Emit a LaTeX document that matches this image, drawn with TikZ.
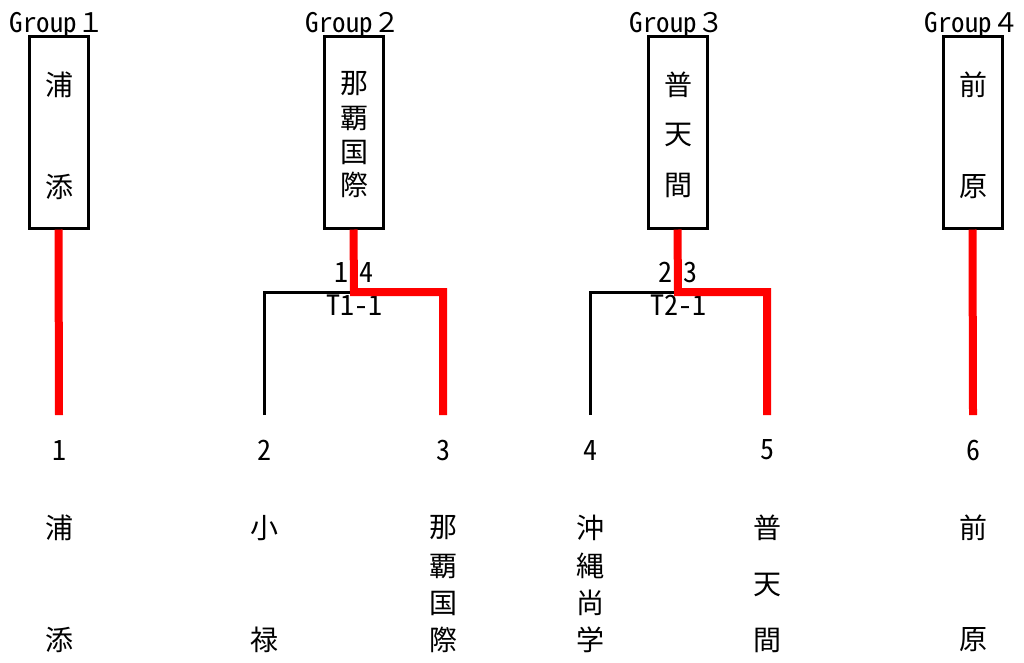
\documentclass[tikz,border=0pt]{standalone}
\usepackage{fontspec}
\setmainfont{Noto Sans CJK JP}
\newfontfamily\hw[RawFeature=+hwid]{Noto Sans CJK JP}
\begin{document}
\begin{tikzpicture}[x=1pt,y=-1pt,
  box/.style={draw=black,line width=3pt,minimum width=59pt,minimum height=192pt,inner sep=0pt},
  ch/.style={font=\fontsize{28}{28}\selectfont,inner sep=0pt},
  lab/.style={font=\hw\fontsize{28}{28}\selectfont,inner sep=0pt},
  grp/.style={font=\fontsize{27}{27}\selectfont,inner sep=0pt},
  win/.style={draw=red,line width=8pt},
  lose/.style={draw=black,line width=3pt}]
\useasboundingbox (0,0) rectangle (1024,662);
% groups
\node[box] (g1) at (58.5,132) {};
\node[box] (g2) at (353.5,132) {};
\node[box] (g3) at (677.5,132) {};
\node[box] (g4) at (972.5,132) {};
\node[grp,anchor=base] (t1) at (57,32) {{\hw Group}１};
\node[grp,anchor=base] (t2) at (353,32) {{\hw Group}２};
\node[grp,anchor=base] (t3) at (677,32) {{\hw Group}３};
\node[grp,anchor=base] (t4) at (972,32) {{\hw Group}４};
% box texts
\node[ch] (a1) at (59,85) {浦};
\node[ch] (a2) at (59,187) {添};
\node[ch] (b1) at (354,84) {那};
\node[ch] (b2) at (354,118) {覇};
\node[ch] (b3) at (354,152) {国};
\node[ch] (b4) at (354,185) {際};
\node[ch] (c1) at (678,85) {普};
\node[ch] (c2) at (678,135) {天};
\node[ch] (c3) at (678,185) {間};
\node[ch] (d1) at (973,85) {前};
\node[ch] (d2) at (973,187) {原};
% ends
\coordinate (e1) at (59,415);
\coordinate (e2) at (264,415);
\coordinate (e3) at (443,415);
\coordinate (e4) at (590,415);
\coordinate (e5) at (767,415);
\coordinate (e6) at (973,415);
\coordinate (j2) at (354,292);
\coordinate (j3) at (678,292);
% match labels
\node[lab] (m2) at (354,272) {1\hspace{11pt}4};
\node[lab] (k2) at (354,305) {T1-1};
\node[lab] (m3) at (678,272) {2\hspace{11pt}3};
\node[lab] (k3) at (678,305) {T2-1};
% connectors
\draw[lose] (e2) |- (j2);
\draw[lose] (e4) |- (j3);
\draw[win] (g1.south) -- (e1);
\draw[win] (g2.south) -- (j2) -| (e3);
\draw[win] (g3.south) -- (j3) -| (e5);
\draw[win] (g4.south) -- (e6);
% numbers
\node[lab] (n1) at (59,450) {1};
\node[lab] (n2) at (264,450) {2};
\node[lab] (n3) at (443,450) {3};
\node[lab] (n4) at (590,450) {4};
\node[lab] (n5) at (767,450) {5};
\node[lab] (n6) at (973,450) {6};
% team names
\node[ch] (p1) at (59,528) {浦};
\node[ch] (p2) at (59,640) {添};
\node[ch] (q1) at (264,528) {小};
\node[ch] (q2) at (264,640) {禄};
\node[ch] (r1) at (443,528) {那};
\node[ch] (r2) at (443,566) {覇};
\node[ch] (r3) at (443,603) {国};
\node[ch] (r4) at (443,640) {際};
\node[ch] (s1) at (590,528) {沖};
\node[ch] (s2) at (590,566) {縄};
\node[ch] (s3) at (590,603) {尚};
\node[ch] (s4) at (590,640) {学};
\node[ch] (u1) at (767,528) {普};
\node[ch] (u2) at (767,585) {天};
\node[ch] (u3) at (767,640) {間};
\node[ch] (v1) at (973,528) {前};
\node[ch] (v2) at (973,640) {原};
\end{tikzpicture}
\end{document}
